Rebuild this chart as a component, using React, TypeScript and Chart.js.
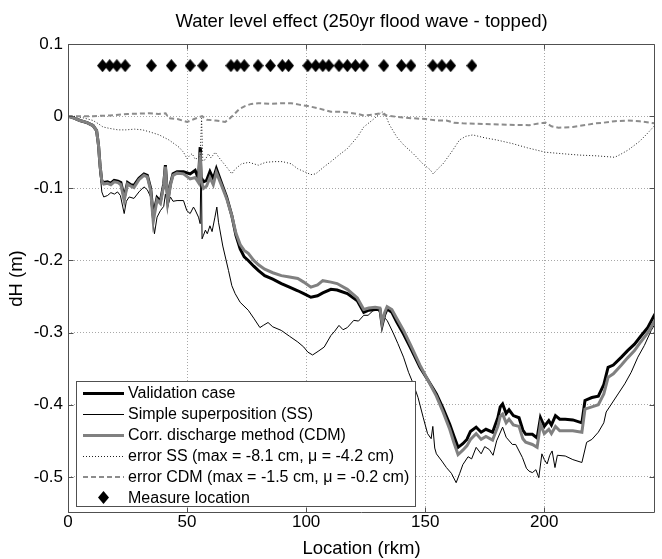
import React, { useEffect, useRef } from 'react';
import { Chart, registerables } from 'chart.js';

Chart.register(...registerables);

const TITLE = 'Water level effect (250yr flood wave - topped)';
const X_LABEL = 'Location (rkm)';
const Y_LABEL = 'dH (m)';
const xTicks = [0, 50, 100, 150, 200];
const yTicks = [0.1, 0, -0.1, -0.2, -0.3, -0.4, -0.5];
const xRange = [0, 246.5];
const yRange = [-0.55, 0.1];

const seriesLabels = [
  'Validation case',
  'Simple superposition (SS)',
  'Corr. discharge method (CDM)',
  'error SS (max = -8.1 cm, \u03bc = -4.2 cm)',
  'error CDM (max = -1.5 cm, \u03bc = -0.2 cm)',
  'Measure location',
];

const validationCase: [number, number][] = [
  [0, 0], [2, -0.002], [5, -0.006], [8, -0.009], [10.5, -0.013], [12, -0.02], [12.8, -0.04], [13.5, -0.07],
  [14.2, -0.09], [15, -0.092], [16.6, -0.091], [18, -0.093], [19.4, -0.089], [21, -0.09], [22.2, -0.092],
  [23.6, -0.113], [25, -0.092], [26.4, -0.095], [27.7, -0.096], [29.8, -0.086], [31.9, -0.08], [33.3, -0.082],
  [34.7, -0.1], [35.8, -0.138], [37.4, -0.113], [38.8, -0.118], [40.2, -0.094], [40.9, -0.068], [41.9, -0.117],
  [43, -0.094], [44.1, -0.08], [45.8, -0.077], [48.5, -0.077], [51.3, -0.08], [53.4, -0.075], [54.8, -0.087],
  [55.5, -0.043], [55.9, -0.085], [56.9, -0.091], [58.2, -0.089], [59.6, -0.077], [61, -0.087], [62.3, -0.073],
  [64.6, -0.094], [66.6, -0.112], [68.8, -0.138], [70.5, -0.165], [72.3, -0.184], [74, -0.195], [75.7, -0.2],
  [78, -0.208], [80, -0.214], [82.6, -0.221], [86, -0.226], [89.6, -0.232], [93, -0.237], [96.5, -0.242],
  [99, -0.246], [102, -0.251], [104.8, -0.249], [107, -0.245], [110.4, -0.24], [113, -0.241], [117.3, -0.246],
  [121.5, -0.256], [124.2, -0.272], [126.3, -0.269], [129, -0.268], [131, -0.268], [131.9, -0.29], [133, -0.275],
  [134, -0.267], [136, -0.272], [138, -0.285], [140.9, -0.302], [144, -0.322], [147.8, -0.348], [151, -0.365],
  [154.7, -0.385], [157.5, -0.405], [160.3, -0.427], [162, -0.443], [163.8, -0.459], [165.8, -0.454],
  [167.5, -0.448], [169, -0.437], [171.4, -0.431], [173.5, -0.438], [175.5, -0.434], [178.3, -0.438],
  [180.5, -0.418], [181.5, -0.403], [182.5, -0.399], [184, -0.412], [185.2, -0.407], [187, -0.415],
  [189.4, -0.418], [191, -0.435], [192.2, -0.441], [195, -0.441], [197, -0.446], [198.4, -0.418], [200, -0.43],
  [201.9, -0.422], [203, -0.428], [204.7, -0.415], [206.5, -0.42], [208.8, -0.42], [212, -0.421],
  [215.8, -0.425], [217.1, -0.394], [220, -0.39], [222.7, -0.388], [225, -0.372], [226.8, -0.348], [229, -0.345],
  [232.4, -0.334], [235, -0.325], [237.9, -0.316], [240.5, -0.305], [243.5, -0.293], [246.5, -0.274],
];

const simpleSuperposition: [number, number][] = [
  [0, 0], [2, -0.002], [5, -0.007], [8, -0.01], [10.5, -0.014], [12, -0.022], [12.8, -0.045], [13.5, -0.08],
  [14.2, -0.105], [15, -0.112], [16.6, -0.11], [18, -0.106], [19.5, -0.108], [20.8, -0.105], [22, -0.11],
  [23.6, -0.135], [24.5, -0.118], [25.7, -0.112], [27.7, -0.114], [29.8, -0.105], [31.9, -0.098], [33.3, -0.102],
  [34.7, -0.112], [35.8, -0.15], [36.3, -0.163], [37.4, -0.14], [38.8, -0.131], [40.2, -0.125], [40.9, -0.108],
  [41.9, -0.125], [43, -0.112], [44.1, -0.118], [45.8, -0.117], [48.5, -0.117], [49.9, -0.131], [51.3, -0.135],
  [52.7, -0.126], [53.4, -0.13], [54.8, -0.14], [55.5, -0.149], [55.9, -0.045], [56.3, -0.17], [56.9, -0.165],
  [57.7, -0.158], [58.5, -0.163], [59.6, -0.152], [60.5, -0.16], [61.7, -0.14], [62.5, -0.126], [63.2, -0.147],
  [65, -0.18], [67.4, -0.214], [68.8, -0.235], [70.2, -0.246], [72.3, -0.258], [75.7, -0.269], [78, -0.28],
  [80.6, -0.293], [82, -0.29], [84, -0.286], [86, -0.292], [89.6, -0.297], [93, -0.305], [96.5, -0.313],
  [99, -0.32], [100.7, -0.327], [102.7, -0.331], [105, -0.326], [107.6, -0.32], [110.4, -0.304], [112, -0.298],
  [113.8, -0.29], [115.5, -0.296], [117.3, -0.293], [120, -0.283], [122, -0.284], [124.2, -0.276], [126, -0.276],
  [128, -0.27], [129.8, -0.267], [131.5, -0.275], [134, -0.283], [136.5, -0.3], [138.5, -0.315], [140.9, -0.334],
  [143, -0.355], [145, -0.371], [147, -0.39], [149.2, -0.418], [151, -0.44], [152.5, -0.447], [153.2, -0.43],
  [154, -0.46], [154.7, -0.468], [157, -0.478], [158.9, -0.487], [161, -0.495], [163, -0.508], [164.5, -0.495],
  [165.8, -0.483], [168, -0.472], [169.5, -0.475], [171.4, -0.459], [173.5, -0.468], [175, -0.458],
  [176.9, -0.462], [178.5, -0.47], [180, -0.45], [182.5, -0.431], [184, -0.445], [186.6, -0.455], [188, -0.455],
  [190.8, -0.473], [192.5, -0.488], [193.6, -0.492], [195, -0.494], [196.5, -0.49], [197.7, -0.501],
  [199, -0.468], [200, -0.476], [201.2, -0.482], [202.3, -0.47], [203.3, -0.464], [204.5, -0.487],
  [205.5, -0.47], [208.8, -0.471], [212, -0.476], [215.8, -0.48], [217.8, -0.452], [220, -0.448],
  [222.7, -0.438], [225, -0.425], [226, -0.41], [228.2, -0.399], [231, -0.385], [233.8, -0.371],
  [236.5, -0.355], [239.3, -0.334], [242, -0.318], [244.9, -0.297], [246.5, -0.288],
];

const corrDischargeMethod: [number, number][] = [
  [0, 0], [2, -0.002], [5, -0.006], [8, -0.009], [10.5, -0.013], [12, -0.02], [12.8, -0.04], [13.5, -0.07],
  [14.2, -0.09], [15, -0.094], [16.6, -0.093], [18, -0.095], [19.4, -0.091], [21, -0.092], [22.2, -0.095],
  [23.6, -0.117], [25, -0.094], [26.4, -0.097], [27.7, -0.099], [29.8, -0.088], [31.9, -0.082], [33.3, -0.084],
  [34.7, -0.103], [35.8, -0.146], [37.4, -0.116], [38.8, -0.121], [40.2, -0.096], [40.9, -0.07], [41.9, -0.119],
  [43, -0.096], [44.1, -0.082], [45.8, -0.079], [48.5, -0.08], [51.3, -0.087], [53.4, -0.085], [54.8, -0.092],
  [55.5, -0.05], [55.9, -0.09], [56.9, -0.1], [58.2, -0.097], [59.6, -0.085], [61, -0.095], [62.3, -0.078],
  [64.6, -0.097], [66.6, -0.114], [68.8, -0.138], [70.5, -0.162], [72.3, -0.178], [74, -0.186], [75.7, -0.19],
  [78, -0.2], [80, -0.206], [82.6, -0.212], [86, -0.217], [89.6, -0.221], [93, -0.223], [96.5, -0.225],
  [99, -0.23], [102, -0.237], [104.8, -0.234], [107, -0.228], [110.4, -0.23], [113, -0.232], [117.3, -0.24],
  [121.5, -0.252], [124.2, -0.268], [126.3, -0.266], [129, -0.265], [131, -0.266], [131.9, -0.287], [133, -0.272],
  [134, -0.264], [136, -0.268], [138, -0.28], [140.9, -0.297], [144, -0.318], [147.8, -0.345], [151, -0.365],
  [154.7, -0.388], [157.5, -0.41], [160.3, -0.434], [162, -0.452], [163.8, -0.469], [165.8, -0.463],
  [167.5, -0.457], [169, -0.448], [171.4, -0.44], [173.5, -0.448], [175.5, -0.444], [178.3, -0.449],
  [180.5, -0.43], [181.5, -0.416], [182.5, -0.413], [184, -0.425], [185.2, -0.42], [187, -0.428],
  [189.4, -0.43], [191, -0.447], [192.2, -0.452], [195, -0.455], [197, -0.459], [198.4, -0.427], [200, -0.44],
  [201.9, -0.434], [203, -0.44], [204.7, -0.43], [206.5, -0.436], [208.8, -0.436], [212, -0.436],
  [215.8, -0.438], [217.1, -0.406], [220, -0.403], [222.7, -0.4], [225, -0.385], [226.8, -0.362], [229, -0.357],
  [232.4, -0.345], [235, -0.335], [237.9, -0.325], [240.5, -0.313], [243.5, -0.3], [246.5, -0.283],
];

const errorSS: [number, number][] = [
  [0, 0], [2.2, 0], [6, -0.002], [10.5, -0.006], [12.5, -0.01], [14.7, -0.015], [17.5, -0.017], [21, -0.019],
  [24.4, -0.019], [28, -0.018], [31.3, -0.019], [34.5, -0.022], [38.3, -0.026], [42.4, -0.033], [46.6, -0.043],
  [48.5, -0.05], [50, -0.059], [51, -0.055], [52.1, -0.052], [53.5, -0.06], [55.5, -0.055], [56.1, -0.003],
  [56.6, -0.062], [57.7, -0.06], [59, -0.052], [60, -0.058], [61.8, -0.05], [64, -0.06], [66, -0.068],
  [68.8, -0.08], [70, -0.074], [72.9, -0.066], [76, -0.064], [79.9, -0.068], [83, -0.064], [86.8, -0.063],
  [90, -0.063], [93.7, -0.066], [96.5, -0.073], [100, -0.078], [102, -0.081], [104, -0.08], [107.6, -0.07],
  [110.4, -0.063], [114.5, -0.052], [117.3, -0.045], [121.5, -0.029], [124.2, -0.015], [128, -0.005],
  [131.9, 0.006], [133, 0.004], [135, -0.012], [138.1, -0.029], [141, -0.04], [145, -0.052], [149, -0.066],
  [152, -0.074], [153.4, -0.08], [155, -0.074], [157.5, -0.066], [161, -0.05], [164.4, -0.033], [167, -0.028],
  [170, -0.026], [175, -0.03], [180, -0.033], [186.6, -0.038], [193, -0.044], [200.5, -0.05], [207.4, -0.052],
  [215, -0.054], [222, -0.055], [229.6, -0.057], [232, -0.053], [235.2, -0.047], [240, -0.035], [243, -0.025],
  [246.5, -0.0125],
];

const errorCDM: [number, number][] = [
  [0, 0], [5, 0], [10.5, 0], [17.5, 0.001], [25, 0.003], [34.1, 0.004], [38, 0.003], [41, 0.004],
  [42.4, -0.003], [46, -0.004], [50, -0.008], [53, -0.004], [56.3, 0], [58.4, -0.005], [62, -0.006],
  [66, -0.008], [68, -0.003], [70.2, 0.004], [72, 0.01], [74.3, 0.014], [77, 0.017], [79.9, 0.018],
  [85, 0.017], [90, 0.018], [93.7, 0.018], [97, 0.016], [100.7, 0.014], [105, 0.011], [110.4, 0.006],
  [114.5, 0.006], [118, 0.005], [121.5, 0.003], [124.2, 0.001], [128, 0.002], [131.2, 0.004], [134, 0.001],
  [138.1, -0.001], [145, -0.003], [150, -0.004], [155, -0.006], [158.9, -0.006], [162, -0.009], [165.8, -0.01],
  [175, -0.011], [185, -0.012], [193.6, -0.0125], [198, -0.01], [200.5, -0.009], [203, -0.014], [206, -0.016],
  [212, -0.015], [218, -0.012], [221.3, -0.01], [225, -0.009], [229.6, -0.007], [235, -0.006], [240, -0.007],
  [246.5, -0.01],
];

const measureLocations = [
  14.5, 17.5, 20.5, 24, 35, 43.4, 51.3, 56.6, 68.4, 71, 74, 79.8, 85, 90, 92.6, 100.7, 104, 107, 109.5,
  113.8, 117.3, 120.7, 124.2, 132.6, 140, 144, 153.2, 157, 160.7, 169.6,
];
const measureLevel = 0.07;

const FONT = '"Liberation Sans", Arial, Helvetica, sans-serif';

const toXY = (arr: [number, number][]) => arr.map(([x, y]) => ({ x, y }));

function makeDiamond(w: number, h: number): HTMLCanvasElement {
  const c = document.createElement('canvas');
  c.width = w;
  c.height = h;
  const g = c.getContext('2d')!;
  g.fillStyle = '#000000';
  g.beginPath();
  g.moveTo(w / 2, 0);
  g.lineTo(w, h / 2);
  g.lineTo(w / 2, h);
  g.lineTo(0, h / 2);
  g.closePath();
  g.fill();
  return c;
}

const frameAndTicks = {
  id: 'frameAndTicks',
  afterDatasetsDraw(chart: any) {
    const { ctx, chartArea, scales } = chart;
    const L = Math.round(chartArea.left) + 0.5;
    const R = Math.round(chartArea.right) - 0.5;
    const T = Math.round(chartArea.top) + 0.5;
    const B = Math.round(chartArea.bottom) - 0.5;
    const len = 5;
    ctx.save();
    ctx.strokeStyle = '#505050';
    ctx.lineWidth = 1;
    ctx.setLineDash([]);
    ctx.beginPath();
    ctx.rect(L, T, R - L, B - T);
    xTicks.forEach((v) => {
      const p = Math.round(scales.x.getPixelForValue(v)) + 0.5;
      ctx.moveTo(p, B);
      ctx.lineTo(p, B - len);
      ctx.moveTo(p, T);
      ctx.lineTo(p, T + len);
    });
    yTicks.forEach((v) => {
      const p = Math.round(scales.y.getPixelForValue(v)) + 0.5;
      ctx.moveTo(L, p);
      ctx.lineTo(L + len, p);
      ctx.moveTo(R, p);
      ctx.lineTo(R - len, p);
    });
    ctx.stroke();
    ctx.restore();
  },
};

const boxLegend = {
  id: 'boxLegend',
  afterDraw(chart: any) {
    const { ctx, chartArea } = chart;
    const datasets = chart.data.datasets;
    const bx = Math.round(chartArea.left) + 8;
    const bw = 340;
    const rowH = 21;
    const bh = 126;
    const by = Math.round(chartArea.bottom) - 6 - bh;
    ctx.save();
    ctx.fillStyle = '#ffffff';
    ctx.fillRect(bx, by, bw, bh);
    ctx.strokeStyle = '#505050';
    ctx.lineWidth = 1;
    ctx.setLineDash([]);
    ctx.strokeRect(bx + 0.5, by + 0.5, bw - 1, bh - 1);
    ctx.font = `16px ${FONT}`;
    ctx.textBaseline = 'middle';
    ctx.textAlign = 'left';
    datasets.forEach((ds: any, i: number) => {
      const cy = by + 11.5 + i * rowH;
      const x0 = bx + 7;
      const x1 = bx + 48;
      if (ds.showLine === false) {
        const img = ds.pointStyle as HTMLCanvasElement;
        const cx = (x0 + x1) / 2;
        ctx.drawImage(img, Math.round(cx - img.width / 2), Math.round(cy - img.height / 2));
      } else {
        ctx.strokeStyle = ds.borderColor;
        ctx.lineWidth = ds.borderWidth;
        ctx.setLineDash(ds.borderDash || []);
        ctx.beginPath();
        ctx.moveTo(x0, Math.round(cy) + (ds.borderWidth % 2 ? 0.5 : 0));
        ctx.lineTo(x1, Math.round(cy) + (ds.borderWidth % 2 ? 0.5 : 0));
        ctx.stroke();
        ctx.setLineDash([]);
      }
      ctx.fillStyle = '#000000';
      ctx.fillText(ds.label, bx + 52, cy + 1);
    });
    ctx.restore();
  },
};

export default function App() {
  const canvasRef = useRef<HTMLCanvasElement | null>(null);

  useEffect(() => {
    if (!canvasRef.current) return;
    Chart.defaults.font.family = FONT;
    Chart.defaults.color = '#000000';
    const diamond = makeDiamond(11, 13);
    const lineBase = { pointRadius: 0, pointHoverRadius: 0, tension: 0, fill: false, showLine: true };
    const chart = new Chart(canvasRef.current, {
      type: 'line',
      data: {
        datasets: [
          { ...lineBase, label: seriesLabels[0], data: toXY(validationCase), borderColor: '#000000', borderWidth: 3, order: 6 },
          { ...lineBase, label: seriesLabels[1], data: toXY(simpleSuperposition), borderColor: '#000000', borderWidth: 1, order: 5 },
          { ...lineBase, label: seriesLabels[2], data: toXY(corrDischargeMethod), borderColor: '#808080', borderWidth: 3, order: 4 },
          { ...lineBase, label: seriesLabels[3], data: toXY(errorSS), borderColor: '#202020', borderWidth: 1, borderDash: [1, 2], order: 3 },
          { ...lineBase, label: seriesLabels[4], data: toXY(errorCDM), borderColor: '#8c8c8c', borderWidth: 2, borderDash: [5, 3], order: 2 },
          {
            label: seriesLabels[5],
            data: measureLocations.map((x) => ({ x, y: measureLevel })),
            showLine: false,
            pointStyle: diamond,
            pointRadius: 6,
            pointHoverRadius: 6,
            borderColor: '#000000',
            backgroundColor: '#000000',
            order: 1,
          },
        ],
      } as any,
      options: {
        animation: false,
        responsive: false,
        devicePixelRatio: 1,
        layout: { padding: { left: 0, right: 1, top: 0, bottom: 0 } },
        plugins: {
          legend: { display: false },
          tooltip: { enabled: false },
          title: {
            display: true,
            fullSize: false,
            text: TITLE,
            color: '#000000',
            font: { size: 18.5, weight: 'normal', family: FONT, lineHeight: 1.2 },
            padding: { top: 11, bottom: 10.8 },
          },
        },
        scales: {
          x: {
            type: 'linear',
            min: xRange[0],
            max: xRange[1],
            afterBuildTicks: (scale: any) => { scale.ticks = xTicks.map((v) => ({ value: v })); },
            afterFit: (scale: any) => { scale.height = 46; },
            ticks: { font: { size: 17, family: FONT, lineHeight: 1 }, padding: 1, color: '#000000', maxRotation: 0, autoSkip: false },
            grid: { color: '#a8a8a8', lineWidth: 1, drawTicks: false },
            border: { display: false, dash: [1, 2] },
            title: { display: true, text: X_LABEL, color: '#000000', font: { size: 18.5, family: FONT, lineHeight: 1 }, padding: { top: 0, bottom: 1 } },
          },
          y: {
            type: 'linear',
            min: yRange[0],
            max: yRange[1],
            afterBuildTicks: (scale: any) => { scale.ticks = yTicks.map((v) => ({ value: v })); },
            afterFit: (scale: any) => { scale.width = 68; },
            ticks: {
              font: { size: 17, family: FONT },
              padding: 5,
              color: '#000000',
              autoSkip: false,
              callback: (v: any) => String(Number(Number(v).toFixed(2))),
            },
            grid: { color: '#a8a8a8', lineWidth: 1, drawTicks: false },
            border: { display: false, dash: [1, 2] },
            title: { display: true, text: Y_LABEL, color: '#000000', font: { size: 18.5, family: FONT, lineHeight: 1.2 }, padding: { top: 6, bottom: 0 } },
          },
        },
      } as any,
      plugins: [frameAndTicks, boxLegend],
    });
    return () => chart.destroy();
  }, []);

  return (
    <div style={{ position: 'fixed', left: 0, top: 0, width: 662, height: 559, background: '#ffffff' }}>
      <canvas ref={canvasRef} width={662} height={559} style={{ display: 'block' }} />
    </div>
  );
}
